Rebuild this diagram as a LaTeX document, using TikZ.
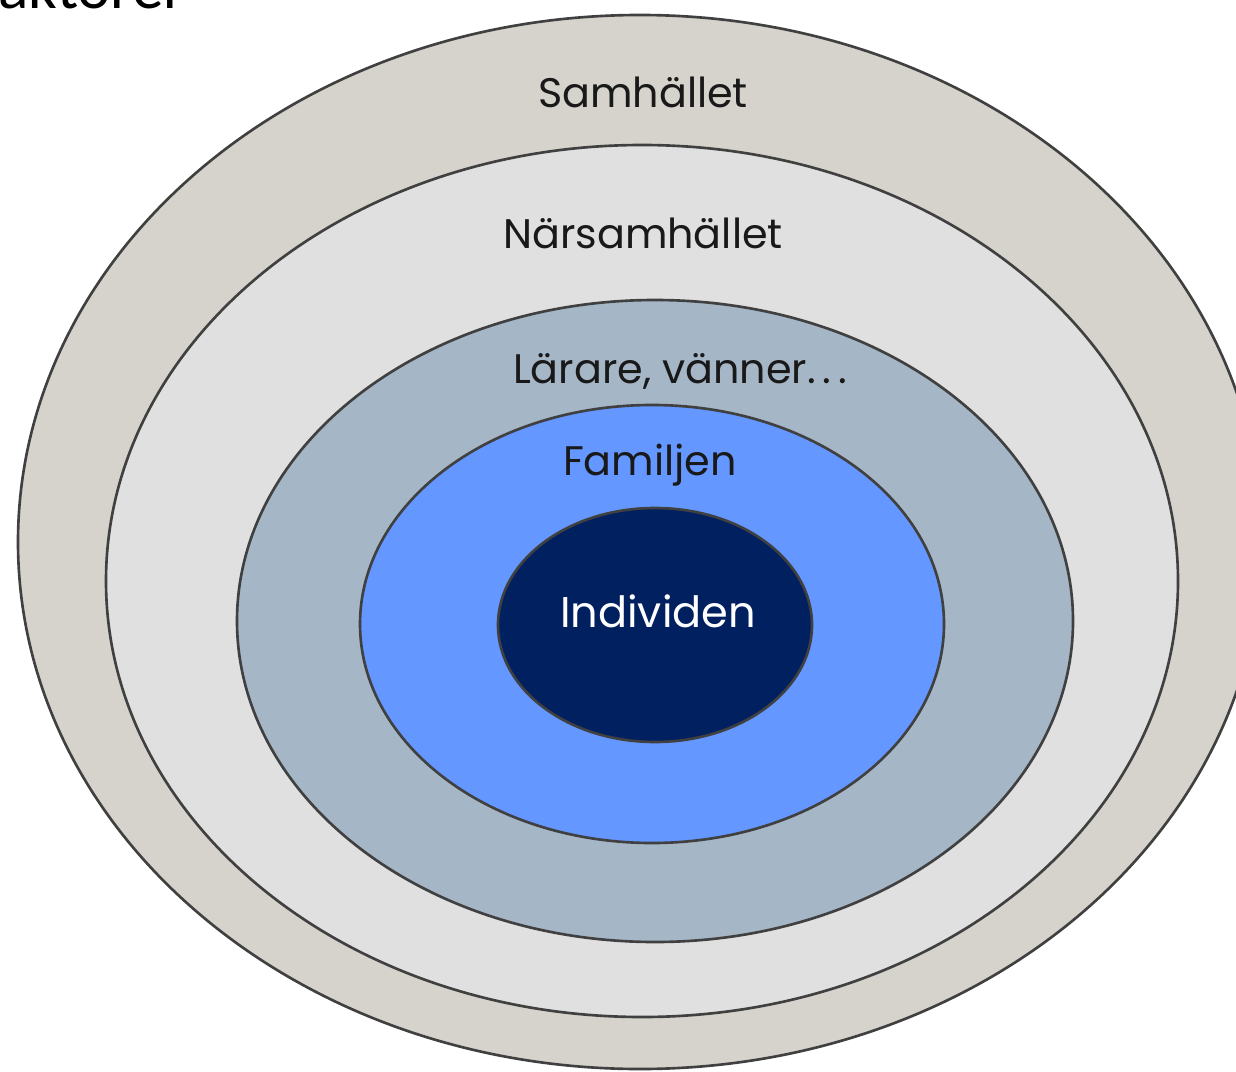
\documentclass[tikz,border=0pt]{standalone}
\usepackage{fontspec}
\setmainfont{Poppins}
\newfontfamily\titlefont{Carlito}
\definecolor{ringline}{HTML}{404040}
\definecolor{samh}{HTML}{D6D3CC}
\definecolor{narsamh}{HTML}{E0E0E0}
\definecolor{larare}{HTML}{A5B6C6}
\definecolor{familj}{HTML}{6497FF}
\definecolor{individ}{HTML}{002060}

\begin{document}
\begin{tikzpicture}[x=0.02cm,y=-0.02cm,
	ring/.style={draw=ringline,line width=1.5pt},
	ringtext/.style={font=\fontsize{23.5}{26}\selectfont,text=black!90,anchor=base,inner sep=0pt}]
	\useasboundingbox (0,0) rectangle (1236,1071);
	\node[font=\titlefont\fontsize{36}{40}\selectfont,anchor=base east,inner sep=0pt] (title) at (186,9) {Faktorer};
	\path[ring,fill=samh]    (640,542) ellipse [x radius=622,y radius=527];
	\path[ring,fill=narsamh] (642,581) ellipse [x radius=536,y radius=436];
	\path[ring,fill=larare]  (655,621) ellipse [x radius=418,y radius=321];
	\path[ring,fill=familj]  (652,624) ellipse [x radius=292,y radius=219];
	\path[ring,fill=individ] (655,625) ellipse [x radius=157,y radius=117];
	\node[ringtext] (samhallet) at (643,108) {Samhället};
	\node[ringtext] (narsamhallet) at (643,248) {Närsamhället};
	\node[ringtext] (lararevanner) at (680,383) {Lärare, vänner{.}\,{.}\,{.}};
	\node[ringtext] (familjen) at (650,475) {Familjen};
	\node[ringtext,text=white,font=\fontsize{24.5}{27}\selectfont] (individen) at (658,627) {Individen};
\end{tikzpicture}
\end{document}
